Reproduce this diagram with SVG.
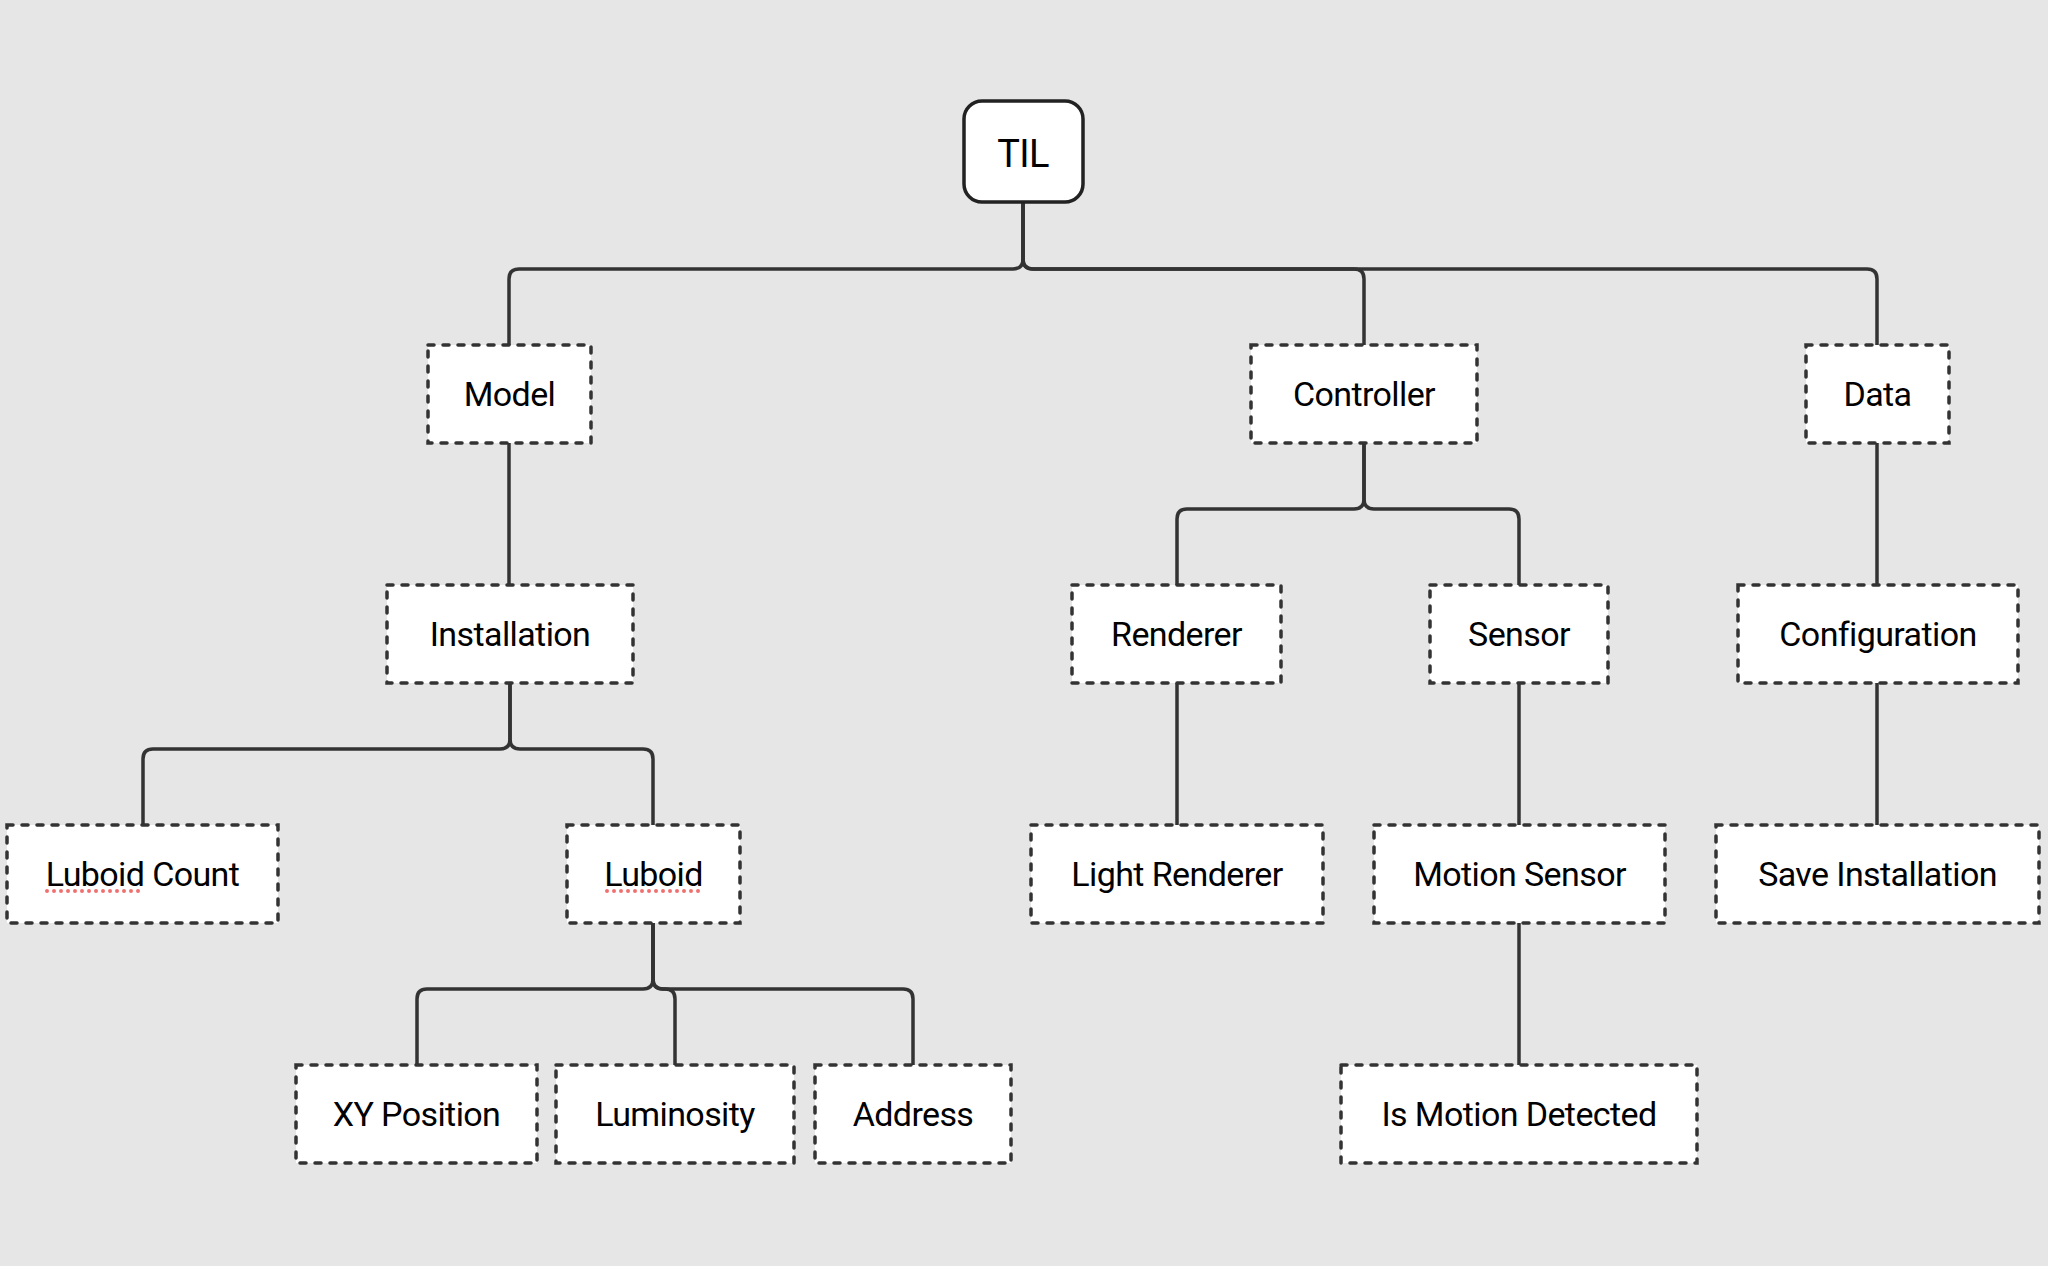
<svg xmlns="http://www.w3.org/2000/svg" width="2048" height="1266" viewBox="0 0 2048 1266">
<style>
.bg{fill:#e6e6e6}
.edge{fill:none;stroke:#333;stroke-width:3.5;stroke-linejoin:round}
.box{fill:#fff;stroke:#333;stroke-width:3.5;stroke-dasharray:6 9;stroke-linecap:round}
.root{fill:#fff;stroke:#222;stroke-width:3.5}
.lbl{font-family:Roboto,"Liberation Sans",sans-serif;font-size:34px;fill:#000;text-anchor:middle;letter-spacing:-0.6px}
.spell{fill:none;stroke:#f07070;stroke-width:4;stroke-linecap:round;stroke-dasharray:0 7}
</style>
<rect class="bg" x="0" y="0" width="2048" height="1266"/>
<g id="connectors">
<path class="edge" d="M1023,202 V259 Q1023,269 1013,269 H519 Q509,269 509,279 V345"/>
<path class="edge" d="M1023,202 V259 Q1023,269 1033,269 H1354 Q1364,269 1364,279 V345"/>
<path class="edge" d="M1023,202 V259 Q1023,269 1033,269 H1867 Q1877,269 1877,279 V345"/>
<path class="edge" d="M509,443 V585"/>
<path class="edge" d="M1364,443 V499 Q1364,509 1354,509 H1187 Q1177,509 1177,519 V585"/>
<path class="edge" d="M1364,443 V499 Q1364,509 1374,509 H1509 Q1519,509 1519,519 V585"/>
<path class="edge" d="M1877,443 V585"/>
<path class="edge" d="M510,683 V739 Q510,749 500,749 H153 Q143,749 143,759 V825"/>
<path class="edge" d="M510,683 V739 Q510,749 520,749 H643 Q653,749 653,759 V825"/>
<path class="edge" d="M1177,683 V825"/>
<path class="edge" d="M1519,683 V825"/>
<path class="edge" d="M1877,683 V825"/>
<path class="edge" d="M653,923 V979 Q653,989 643,989 H427 Q417,989 417,999 V1065"/>
<path class="edge" d="M653,923 V979 Q653,989 663,989 H665 Q675,989 675,999 V1065"/>
<path class="edge" d="M653,923 V979 Q653,989 663,989 H903 Q913,989 913,999 V1065"/>
<path class="edge" d="M1519,923 V1065"/>
</g>
<g id="til"><rect class="root" x="964" y="101" width="119" height="101" rx="18"/><text class="lbl" x="1023" y="167" style="font-size:38px">TIL</text></g>
<g id="model"><rect class="box" x="428" y="345" width="163" height="98"/><text class="lbl" x="509.5" y="406">Model</text></g>
<g id="controller"><rect class="box" x="1251" y="345" width="226" height="98"/><text class="lbl" x="1364" y="406">Controller</text></g>
<g id="data"><rect class="box" x="1806" y="345" width="143" height="98"/><text class="lbl" x="1877.5" y="406">Data</text></g>
<g id="installation"><rect class="box" x="387" y="585" width="246" height="98"/><text class="lbl" x="510" y="646">Installation</text></g>
<g id="renderer"><rect class="box" x="1072" y="585" width="209" height="98"/><text class="lbl" x="1176.5" y="646">Renderer</text></g>
<g id="sensor"><rect class="box" x="1430" y="585" width="178" height="98"/><text class="lbl" x="1519" y="646">Sensor</text></g>
<g id="configuration"><rect class="box" x="1738" y="585" width="280" height="98"/><text class="lbl" x="1878" y="646">Configuration</text></g>
<g id="luboid-count"><rect class="box" x="7" y="825" width="271" height="98"/><text class="lbl" x="142.5" y="886">Luboid Count</text><path class="spell" d="M47,891 H143"/></g>
<g id="luboid"><rect class="box" x="567" y="825" width="173" height="98"/><text class="lbl" x="653.5" y="886">Luboid</text><path class="spell" d="M607,891 H703"/></g>
<g id="light-renderer"><rect class="box" x="1031" y="825" width="292" height="98"/><text class="lbl" x="1177" y="886">Light Renderer</text></g>
<g id="motion-sensor"><rect class="box" x="1374" y="825" width="291" height="98"/><text class="lbl" x="1519.5" y="886">Motion Sensor</text></g>
<g id="save-installation"><rect class="box" x="1716" y="825" width="323" height="98"/><text class="lbl" x="1877.5" y="886">Save Installation</text></g>
<g id="xy-position"><rect class="box" x="296" y="1065" width="241" height="98"/><text class="lbl" x="416.5" y="1126">XY Position</text></g>
<g id="luminosity"><rect class="box" x="556" y="1065" width="238" height="98"/><text class="lbl" x="675" y="1126">Luminosity</text></g>
<g id="address"><rect class="box" x="815" y="1065" width="196" height="98"/><text class="lbl" x="913" y="1126">Address</text></g>
<g id="is-motion-detected"><rect class="box" x="1341" y="1065" width="356" height="98"/><text class="lbl" x="1519" y="1126">Is Motion Detected</text></g>
</svg>
